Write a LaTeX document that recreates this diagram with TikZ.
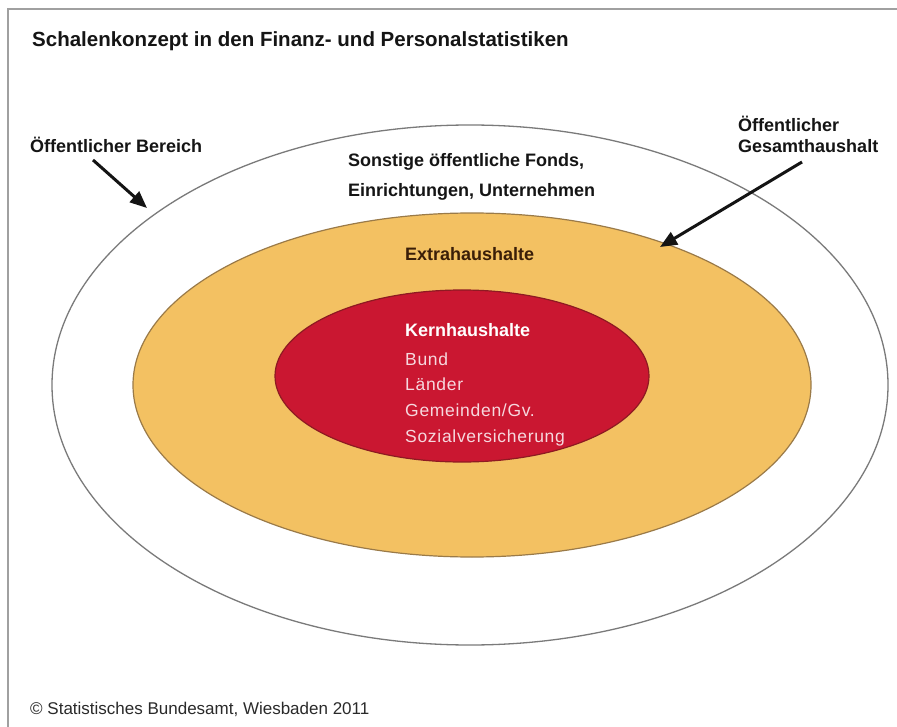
\documentclass[tikz,border=0pt]{standalone}
\usepackage{fontspec}
\setmainfont{Liberation Sans}
\newfontfamily\spacedsans[LetterSpace=4]{Liberation Sans}
\usetikzlibrary{arrows.meta}
\definecolor{framegray}{HTML}{A0A0A0}
\definecolor{outerline}{HTML}{7A7A7A}
\definecolor{orangefill}{HTML}{F3C162}
\definecolor{orangeline}{HTML}{9A7A48}
\definecolor{redfill}{HTML}{CA1731}
\definecolor{redline}{HTML}{8E1A22}
\definecolor{labeltext}{HTML}{151515}
\definecolor{browntext}{HTML}{3A1E08}
\definecolor{pinktext}{HTML}{F6D8DE}
\definecolor{creditgray}{HTML}{2A2A2A}
\tikzset{
  lbl/.style={font=\fontsize{18}{20}\selectfont\bfseries, text=labeltext, inner sep=0pt, anchor=base west},
  titlelbl/.style={font=\fontsize{20.5}{23}\selectfont\bfseries, text=labeltext, inner sep=0pt, anchor=base west},
  kernlbl/.style={font=\fontsize{18}{20}\selectfont\bfseries, text=white, inner sep=0pt, anchor=base west},
  kernitem/.style={font=\spacedsans\fontsize{17.5}{20}\selectfont, text=pinktext, inner sep=0pt, anchor=base west},
  creditlbl/.style={font=\fontsize{17}{20}\selectfont, text=creditgray, inner sep=0pt, anchor=base west},
  pointer/.style={line width=3pt, draw=black!92, -{Triangle[length=17pt,width=14pt]}},
}
\begin{document}
\begin{tikzpicture}[x=1pt,y=-1pt]
\useasboundingbox (0,0) rectangle (897,727);
\fill[white] (0,0) rectangle (897,727);
\draw[framegray,line width=2pt] (8,727) -- (8,9) -- (897,9);

% shells
\draw[outerline,line width=1.3pt,fill=white] (470,385) ellipse [x radius=418pt, y radius=260pt];
\draw[orangeline,line width=1.2pt,fill=orangefill] (472,385) ellipse [x radius=339pt, y radius=172pt];
\draw[redline,line width=1.2pt,fill=redfill] (462,376) ellipse [x radius=187pt, y radius=86pt];

% title
\node[titlelbl] (title) at (32,47) {Schalenkonzept in den Finanz- und Personalstatistiken};

% labels
\node[lbl] (bereich) at (30,153) {Öffentlicher Bereich};
\node[lbl] (gesA) at (738,132) {Öffentlicher};
\node[lbl] (gesB) at (738,152.5) {Gesamthaushalt};
\node[lbl] (sonstA) at (348,167) {Sonstige öffentliche Fonds,};
\node[lbl] (sonstB) at (348,197) {Einrichtungen, Unternehmen};
\node[lbl,text=browntext] (extra) at (405,261) {Extrahaushalte};

\node[kernlbl] (kern) at (405,337) {Kernhaushalte};
\node[kernitem] (bund) at (405,365) {Bund};
\node[kernitem] (laender) at (405,390.5) {Länder};
\node[kernitem] (gemeinden) at (405,416.5) {Gemeinden/Gv.};
\node[kernitem] (sozial) at (405,442) {Sozialversicherung};

\node[creditlbl] (credit) at (30,714) {© Statistisches Bundesamt, Wiesbaden 2011};

% pointers
\coordinate (p1s) at (93,160);
\coordinate (p1e) at (147,208);
\coordinate (p2s) at (802,162);
\coordinate (p2e) at (660,247);
\draw[pointer] (p1s) -- (p1e);
\draw[pointer] (p2s) -- (p2e);
\end{tikzpicture}
\end{document}
